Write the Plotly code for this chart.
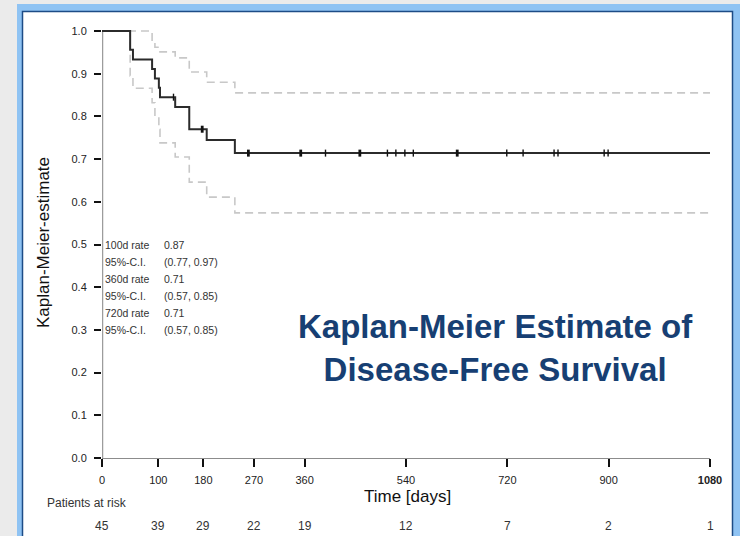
import plotly.graph_objects as go

# Kaplan-Meier step function: event days and survival estimate after each step
km_days = [0, 50, 55, 89, 94, 101, 103, 130, 155, 186, 236, 1080]
km_surv = [1.0, 0.956, 0.933, 0.911, 0.889, 0.867, 0.845, 0.822, 0.770, 0.745, 0.714, 0.714]

# pointwise 95% confidence band at the same step days
ci_upper = [1.0, 1.0, 1.0, 0.975, 0.962, 0.955, 0.951, 0.937, 0.904, 0.880, 0.855, 0.855]
ci_lower = [1.0, 0.895, 0.866, 0.832, 0.800, 0.770, 0.738, 0.705, 0.646, 0.611, 0.574, 0.574]

# censored observations (day, survival level, number censored)
censor_days = [127, 178, 260, 353, 397, 458, 507, 522, 538, 553, 631, 719, 748, 803, 810, 892, 899]
censor_surv = [0.845, 0.770, 0.714, 0.714, 0.714, 0.714, 0.714, 0.714, 0.714, 0.714,
               0.714, 0.714, 0.714, 0.714, 0.714, 0.714, 0.714]
censor_count = [1, 2, 2, 2, 1, 2, 1, 1, 1, 1, 2, 1, 1, 1, 1, 1, 1]

# axis ticks and number at risk
x_ticks = [0, 100, 180, 270, 360, 540, 720, 900, 1080]
x_tick_text = ["0", "100", "180", "270", "360", "540", "720", "900", "<b>1080</b>"]
at_risk = [45, 39, 29, 22, 19, 12, 7, 2, 1]
y_ticks = [0.0, 0.1, 0.2, 0.3, 0.4, 0.5, 0.6, 0.7, 0.8, 0.9, 1.0]

# landmark survival rates
rate_labels = ["100d rate", "95%-C.I.", "360d rate", "95%-C.I.", "720d rate", "95%-C.I."]
rate_values = ["0.87", "(0.77, 0.97)", "0.71", "(0.57, 0.85)", "0.71", "(0.57, 0.85)"]

FONT = "Liberation Sans, Arial, sans-serif"
W, H = 740, 536
L, R, T, B = 102, 710, 26, 458          # plot area in pixels
Y_TOP = (B - T) / 427.0                 # 0..1 spans 427 px


def px_x(px):
    return (px - L) / (R - L)


def px_y(py):
    return (B - py) / (B - T)


fig = go.Figure()

band_style = dict(color="#c8c8c8", width=1.6, dash="8px,5px", shape="hv")
fig.add_trace(go.Scatter(x=km_days, y=ci_upper, mode="lines", line=band_style,
                         hoverinfo="skip"))
fig.add_trace(go.Scatter(x=km_days, y=ci_lower, mode="lines", line=band_style,
                         hoverinfo="skip"))
fig.add_trace(go.Scatter(x=km_days, y=km_surv, mode="lines",
                         line=dict(color="#2b2b2b", width=2, shape="hv")))
fig.add_trace(go.Scatter(
    x=censor_days, y=censor_surv, mode="markers", cliponaxis=False,
    marker=dict(symbol="line-ns", size=5, color="#111",
                line=dict(color="#111", width=[1.4 * c for c in censor_count])),
))

shapes = [
    # light blue frame band
    dict(type="rect", xref="paper", yref="paper", layer="below",
         x0=px_x(17), x1=px_x(760), y0=px_y(560), y1=px_y(4),
         fillcolor="#8fc3f3", line=dict(width=0)),
    # white panel with dark blue edge
    dict(type="rect", xref="paper", yref="paper", layer="below",
         x0=px_x(22.5), x1=px_x(732.5), y0=px_y(560), y1=px_y(11.5),
         fillcolor="#ffffff", line=dict(color="#1d4c86", width=1.5)),
    # y axis line from 0 to 1
    dict(type="line", xref="x", yref="y", layer="below",
         x0=0, x1=0, y0=0, y1=1, line=dict(color="#9c9c9c", width=2.5)),
]


def note(text, x, y, size, color="#222", xref="paper", yref="paper",
         xanchor="center", **kw):
    return dict(text=text, xref=xref, yref=yref, x=x, y=y, xanchor=xanchor,
                yanchor="middle", showarrow=False,
                font=dict(family=FONT, size=size, color=color), **kw)


annotations = [
    note("Kaplan-Meier-estimate", px_x(43), px_y(243), 17, "#111", textangle=-90),
    note("Time [days]", px_x(407), px_y(496), 17, "#111"),
    note("Patients at risk", px_x(45), px_y(503), 12, "#333", xanchor="left"),
]
for t, n in zip(x_ticks, at_risk):
    annotations.append(note(str(n), t, px_y(526), 12, "#333", xref="x"))
for i, (lab, val) in enumerate(zip(rate_labels, rate_values)):
    ypos = 0.5 - 0.04 * i
    annotations.append(note(lab, 0, ypos, 10.5, "#333", xref="x", yref="y",
                            xanchor="left", xshift=1))
    annotations.append(note(val, 0, ypos, 10.5, "#333", xref="x", yref="y",
                            xanchor="left", xshift=60))
annotations.append(note("<b>Kaplan-Meier Estimate of<br>Disease-Free Survival</b>",
                        px_x(495), px_y(348), 33, "#173f73", align="center"))

fig.update_layout(
    width=W, height=H,
    margin=dict(l=L, r=W - R, t=T, b=H - B, pad=0),
    paper_bgcolor="#ebebeb", plot_bgcolor="rgba(0,0,0,0)",
    showlegend=False, shapes=shapes, annotations=annotations,
    xaxis=dict(range=[0, 1080], tickmode="array", tickvals=x_ticks,
               ticktext=x_tick_text, ticks="outside", ticklen=8, tickwidth=1.5,
               tickcolor="#111", showline=True, linecolor="#8c8c8c", linewidth=1,
               showgrid=False, zeroline=False, automargin=False,
               ticklabelstandoff=4,
               tickfont=dict(family=FONT, size=11, color="#222")),
    yaxis=dict(range=[0, Y_TOP], tickmode="array", tickvals=y_ticks,
               ticktext=[f"{v:.1f}" for v in y_ticks], ticks="outside",
               ticklen=7, tickwidth=1.5, tickcolor="#111", showline=False,
               showgrid=False, zeroline=False, automargin=False,
               ticklabelstandoff=5,
               tickfont=dict(family=FONT, size=11, color="#222")),
)

fig.write_html("out.html")
